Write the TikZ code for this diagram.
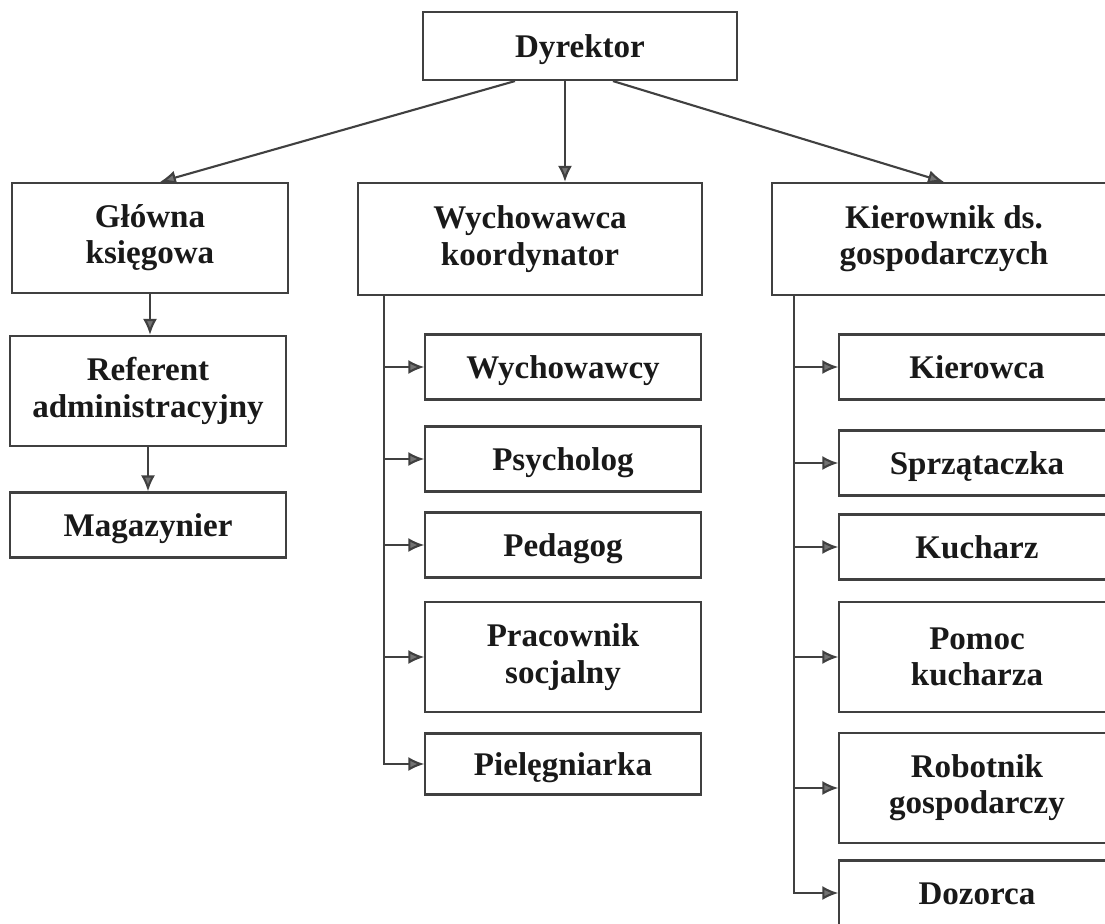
\documentclass[tikz,border=0pt]{standalone}
\usepackage{fontspec}
\setmainfont{Liberation Serif}
\usetikzlibrary{arrows, arrows.meta, positioning}

\begin{document}
\begin{tikzpicture}[x=0.01cm, y=-0.01cm,
  >={Latex[length=0.16cm, width=0.14cm, fill=black!55]},
  box/.style={draw=black!75, line width=0.6pt, align=center, inner sep=0pt,
    font=\bfseries\fontsize{9.4}{10.3}\selectfont, text=black!90},
  oneline/.style={box, text height=6.3pt, text depth=0pt},
  small/.style={oneline, minimum width=2.75cm, minimum height=0.65cm},
  tall/.style={box, minimum width=2.75cm, minimum height=1.1cm},
  head/.style={box, minimum width=3.44cm, minimum height=1.12cm},
  link/.style={->, draw=black!75, line width=0.6pt}]
  \useasboundingbox (0,0) rectangle (1105,923);
  \clip (0,0) rectangle (1105,923);

  \node[oneline, minimum width=3.14cm, minimum height=0.68cm] (dyr) at (580,46) {Dyrektor};

  \node[tall] (glowna) at (150,238) {Główna\\księgowa};
  \node[tall] (referent) at (148,391) {Referent\\administracyjny};
  \node[small] (magazyn) at (148,525) {Magazynier};

  \node[head] (wych) at (530,239) {Wychowawca\\koordynator};
  \node[small] (wychowawcy) at (563,367) {Wychowawcy};
  \node[small] (psycholog) at (563,459) {Psycholog};
  \node[small] (pedagog) at (563,545) {Pedagog};
  \node[tall] (pracownik) at (563,657) {Pracownik\\socjalny};
  \node[small, minimum height=0.61cm] (pielegn) at (563,764) {Pielęgniarka};

  \node[head] (kier) at (944,239) {Kierownik ds.\\gospodarczych};
  \node[small] (kierowca) at (977,367) {Kierowca};
  \node[small] (sprzat) at (977,463) {Sprzątaczka};
  \node[small] (kucharz) at (977,547) {Kucharz};
  \node[tall] (pomoc) at (977,657) {Pomoc\\kucharza};
  \node[tall] (robotnik) at (977,788) {Robotnik\\gospodarczy};
  \node[small] (dozorca) at (977,893) {Dozorca};

  % from the director
  \draw[link] ([xshift=-0.65cm]dyr.south) -- ([xshift=0.1cm]glowna.north);
  \draw[link] ([xshift=-0.15cm]dyr.south) -- ([xshift=-0.15cm]dyr.south |- wych.north);
  \draw[link] ([xshift=0.33cm]dyr.south) -- (kier.north);

  % accounting
  \draw[link] (glowna.south) -- (glowna.south |- referent.north);
  \draw[link] (referent.south) -- (magazyn.north);

  % educators
  \coordinate (wtrunk) at ([xshift=0.27cm]wych.south west);
  \draw[link] (wtrunk) |- (pielegn.west);
  \draw[link] (wtrunk |- wychowawcy.west) -- (wychowawcy.west);
  \draw[link] (wtrunk |- psycholog.west) -- (psycholog.west);
  \draw[link] (wtrunk |- pedagog.west) -- (pedagog.west);
  \draw[link] (wtrunk |- pracownik.west) -- (pracownik.west);

  % household staff
  \coordinate (ktrunk) at ([xshift=0.23cm]kier.south west);
  \draw[link] (ktrunk) |- (dozorca.west);
  \draw[link] (ktrunk |- kierowca.west) -- (kierowca.west);
  \draw[link] (ktrunk |- sprzat.west) -- (sprzat.west);
  \draw[link] (ktrunk |- kucharz.west) -- (kucharz.west);
  \draw[link] (ktrunk |- pomoc.west) -- (pomoc.west);
  \draw[link] (ktrunk |- robotnik.west) -- (robotnik.west);
\end{tikzpicture}
\end{document}
